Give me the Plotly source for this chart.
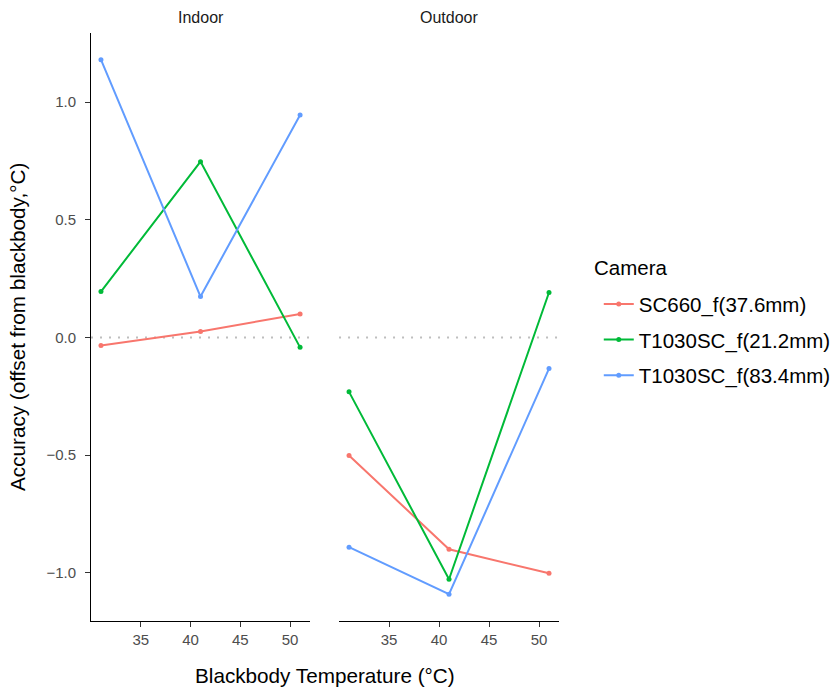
import plotly.graph_objects as go

temps = [31, 41, 51]
cameras = ["SC660_f(37.6mm)", "T1030SC_f(21.2mm)", "T1030SC_f(83.4mm)"]
colors = ["#F8766D", "#00BA38", "#619CFF"]
indoor = {
    "SC660_f(37.6mm)": [-0.034, 0.025, 0.100],
    "T1030SC_f(21.2mm)": [0.195, 0.747, -0.042],
    "T1030SC_f(83.4mm)": [1.180, 0.174, 0.945],
}
outdoor = {
    "SC660_f(37.6mm)": [-0.501, -0.900, -1.002],
    "T1030SC_f(21.2mm)": [-0.231, -1.027, 0.191],
    "T1030SC_f(83.4mm)": [-0.891, -1.091, -0.132],
}
panels = ["Indoor", "Outdoor"]
yticks = [-1.0, -0.5, 0.0, 0.5, 1.0]
xticks = [35, 40, 45, 50]

FONT = "Liberation Sans, Arial, Helvetica, sans-serif"
TICKCOL = "#4D4D4D"
fig = go.Figure()

for i, cam in enumerate(cameras):
    fig.add_trace(go.Scatter(
        x=temps, y=indoor[cam], mode="lines+markers", name=cam,
        line=dict(color=colors[i], width=2), marker=dict(color=colors[i], size=5),
        xaxis="x", yaxis="y", legendgroup=cam, showlegend=True))
    fig.add_trace(go.Scatter(
        x=temps, y=outdoor[cam], mode="lines+markers", name=cam,
        line=dict(color=colors[i], width=2), marker=dict(color=colors[i], size=5),
        xaxis="x2", yaxis="y2", legendgroup=cam, showlegend=False))

allv = [v for d in (indoor, outdoor) for s in d.values() for v in s]
lo, hi = min(allv), max(allv)
pad = (hi - lo) * 0.05
yr = [lo - pad, hi + pad]
xr = [min(temps) - 0.05 * (max(temps) - min(temps)), max(temps) + 0.05 * (max(temps) - min(temps))]

xcommon = dict(range=xr, tickvals=xticks, ticks="outside", ticklen=5, tickcolor="#333333",
               tickwidth=1, showline=True, linecolor="black", linewidth=1, showgrid=False,
               zeroline=False, tickfont=dict(family=FONT, size=15, color=TICKCOL))
ycommon = dict(range=yr, tickvals=yticks, tickformat=".1f", ticks="outside", ticklen=5,
               tickcolor="#333333", tickwidth=1, showgrid=False, zeroline=False,
               tickfont=dict(family=FONT, size=15, color=TICKCOL))

fig.update_layout(
    width=835, height=689,
    margin=dict(l=91, r=276, t=33, b=68, autoexpand=False),
    paper_bgcolor="white", plot_bgcolor="white",
    font=dict(family=FONT, color="black"),
    xaxis=dict(xcommon, domain=[0, 0.468], anchor="y"),
    xaxis2=dict(xcommon, domain=[0.530, 1.0], anchor="y2"),
    yaxis=dict(ycommon, domain=[0, 1], anchor="x", showline=True, linecolor="black", linewidth=1,
               ticklabelstandoff=6),
    yaxis2=dict(ycommon, domain=[0, 1], anchor="x2", showline=False, showticklabels=False,
                ticks="", matches="y"),
    legend=dict(font=dict(size=20.5, family=FONT, color="black"), x=1.085, y=0.573,
                xanchor="left", yanchor="top",
                tracegroupgap=6, itemwidth=30, bgcolor="rgba(0,0,0,0)"),
    showlegend=True,
)

fig.add_annotation(text="Camera", xref="paper", yref="paper", x=1.072, xshift=-1, y=0.5475,
                   yshift=18, xanchor="left", yanchor="bottom", showarrow=False,
                   font=dict(size=20.5, family=FONT, color="black"))

for xa, ya in (("x", "y"), ("x2", "y2")):
    fig.add_shape(type="line", xref=xa + " domain", yref=ya, x0=0, x1=1, y0=0, y1=0,
                  line=dict(color="#BEBEBE", width=2, dash="2px,7px"), layer="below")

for p, xa in zip(panels, ("x", "x2")):
    fig.add_annotation(text=p, xref=xa + " domain", yref="paper", x=0.5, y=1.0, yshift=16,
                       showarrow=False, font=dict(size=16, family=FONT, color="#1A1A1A"),
                       yanchor="middle")

fig.add_annotation(text="Blackbody Temperature (°C)", xref="paper", yref="paper", x=0.5, y=0,
                   yshift=-54, showarrow=False, yanchor="middle",
                   font=dict(size=20.7, family=FONT, color="black"))
fig.add_annotation(text="Accuracy (offset from blackbody,°C)", xref="paper", yref="paper",
                   x=0, xshift=-74, y=0.5, textangle=-90, showarrow=False, xanchor="center",
                   font=dict(size=20.7, family=FONT, color="black"))

fig.write_html("out.html")
